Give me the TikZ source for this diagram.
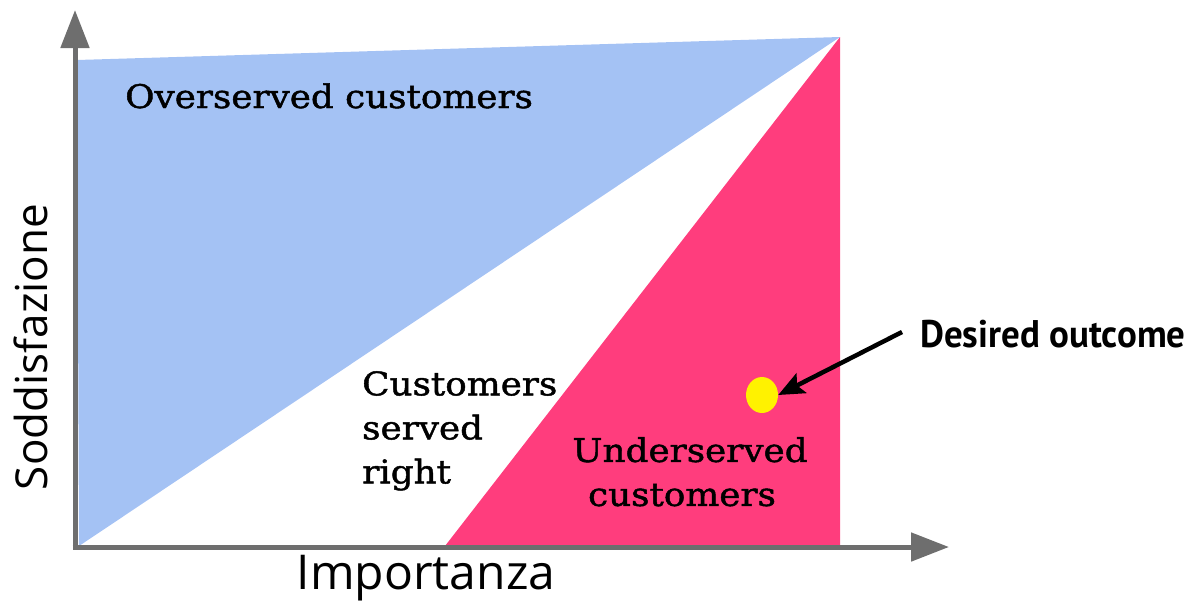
\documentclass[tikz,border=0pt]{standalone}
\usepackage{fontspec}
\usetikzlibrary{arrows.meta,shapes.geometric}
\newfontfamily\slabfont[FakeStretch=1.1,FakeBold=1.4]{DejaVu Serif}
\newfontfamily\axisfont{Open Sans}
\newfontfamily\notefont{PT Sans}
\definecolor{overblue}{HTML}{A4C2F4}
\definecolor{underpink}{HTML}{FF3D7D}
\definecolor{axisgray}{HTML}{6E6E6E}
\definecolor{dotyellow}{HTML}{FFF200}
\begin{document}
\begin{tikzpicture}[x=1pt,y=-1pt,
  region/.style={font=\slabfont\fontsize{32.5}{44}\selectfont, text=black, inner sep=0pt},
  axislabel/.style={font=\axisfont\fontsize{44}{50}\selectfont, text=black, inner sep=0pt},
  axisline/.style={draw=axisgray, line width=5pt, -{Triangle[length=38pt,width=28pt]}},
  pointer/.style={draw=black, line width=4.5pt, -{Stealth[length=26pt,width=22pt,inset=5pt]}}]
\useasboundingbox (0,0) rectangle (1193,606);

% zones
\fill[overblue] (77,60) -- (840,37) -- (79,546) -- cycle;
\fill[underpink] (840,37) -- (840,546) -- (445,546) -- cycle;

% axes
\coordinate (origin) at (75,547);
\coordinate (ytip) at (75,10);
\coordinate (xtip) at (949,547);
\draw[axisline] (75,549.5) -- (ytip);
\draw[axisline] (72.5,547) -- (xtip);

% axis labels
\node[axislabel, font=\axisfont\fontsize{48}{54}\selectfont, anchor=center] (xlab) at (426,578) {Importanza};
\node[axislabel, anchor=center, rotate=90] (ylab) at (31,347) {Soddisfazione};

% zone labels
\node[region, anchor=base west] (over) at (125,108) {Overserved customers};
\node[region, anchor=north west, align=left] (right) at (362,371) {Customers\\served\\right};
\node[region, anchor=north, align=center] (under) at (690,437) {Underserved\\\hspace*{-16pt}customers};

% desired outcome
\node[fill=dotyellow, ellipse, minimum width=32pt, minimum height=36pt, inner sep=0pt] (dot) at (762,395) {};
\node[font=\notefont\bfseries\fontsize{38.5}{42}\selectfont, inner sep=0pt, anchor=base west] (desired) at (920,347)
  {\scalebox{0.96}[1]{Desired outcome}};
\coordinate (tail) at (902,332);
\draw[pointer] (tail) -- (dot.east);
\end{tikzpicture}
\end{document}
